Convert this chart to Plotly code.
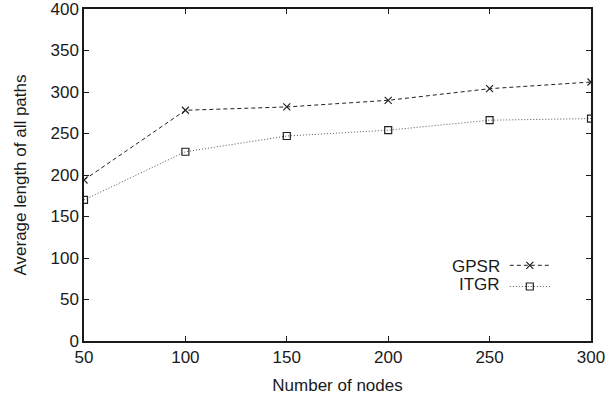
import plotly.graph_objects as go

nodes = [50, 100, 150, 200, 250, 300]
gpsr = [194, 278, 282, 290, 304, 312]
itgr = [170, 228, 247, 254, 266, 268]
x_ticks = [50, 100, 150, 200, 250, 300]
y_ticks = [0, 50, 100, 150, 200, 250, 300, 350, 400]

FONT = "Liberation Sans"
INK = "#1a1a1a"

fig = go.Figure()
fig.add_trace(go.Scatter(x=nodes, y=gpsr, mode="lines+markers", name=" ",
                         line=dict(color="#222222", width=1, dash="4px,3px"),
                         marker=dict(symbol="x-thin-open", size=7, color="#222222",
                                     line=dict(width=1.2, color="#222222"))))
fig.add_trace(go.Scatter(x=nodes, y=itgr, mode="lines+markers", name="  ",
                         line=dict(color="#555555", width=1, dash="1px,2px"),
                         marker=dict(symbol="square-open", size=7, color="#222222",
                                     line=dict(width=1.2, color="#222222"))))

axis_common = dict(showgrid=False, zeroline=False, showline=True, linecolor=INK,
                   linewidth=1.5, mirror="ticks", ticks="inside", ticklen=5,
                   tickcolor=INK, automargin=False, ticklabeloverflow="allow",
                   tickfont=dict(family=FONT, size=17, color=INK))
fig.update_xaxes(range=[50, 300], tickvals=x_ticks, title=dict(text="Number of nodes",
                 font=dict(family=FONT, size=17, color=INK), standoff=13), **axis_common)
fig.update_yaxes(range=[0, 400], tickvals=y_ticks, title=dict(text="Average length of all paths",
                 font=dict(family=FONT, size=17, color=INK), standoff=20), **axis_common)

fig.update_layout(
    width=616, height=402,
    margin=dict(l=84, r=25, t=9, b=61, autoexpand=False),
    plot_bgcolor="white", paper_bgcolor="white",
    font=dict(family=FONT, size=17, color=INK),
    showlegend=True,
    legend=dict(x=0.83, y=0.275, xanchor="left", yanchor="top", bgcolor="rgba(0,0,0,0)",
                font=dict(size=14), tracegroupgap=0, itemwidth=40),
    annotations=[
        dict(text="GPSR", x=0.825, y=0.223, xref="paper", yref="paper", xanchor="right",
             yanchor="middle", showarrow=False, font=dict(size=17, color=INK)),
        dict(text="ITGR", x=0.825, y=0.169, xref="paper", yref="paper", xanchor="right",
             yanchor="middle", showarrow=False, font=dict(size=17, color=INK)),
    ],
)
fig.write_html("out.html", config={"displayModeBar": False},
               post_script="document.body.style.margin='0';")
